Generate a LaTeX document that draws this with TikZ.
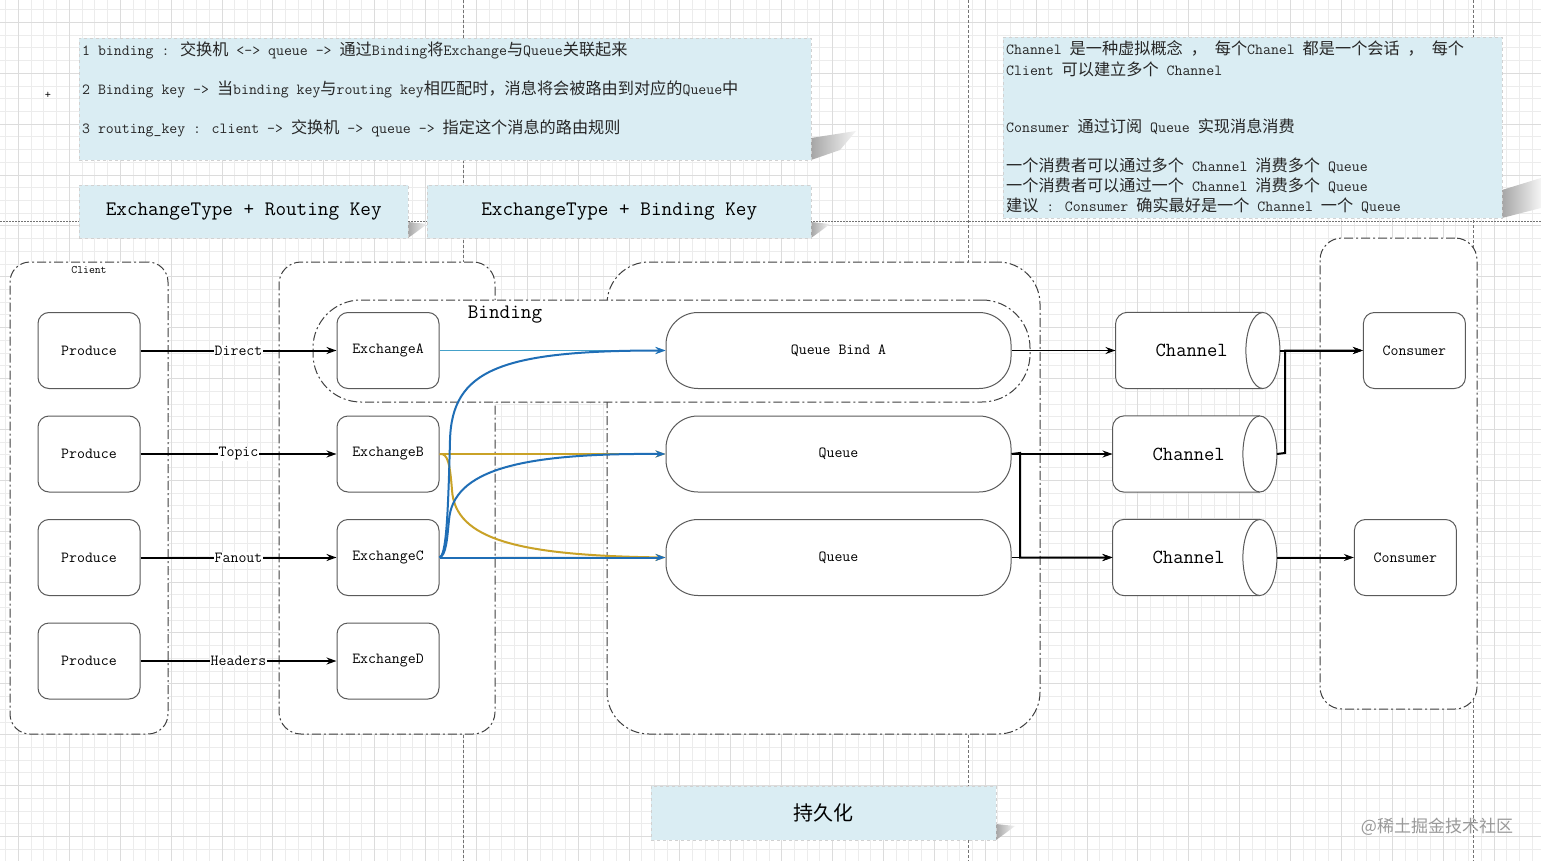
\documentclass[tikz,border=0pt]{standalone}
\usepackage{fontspec}
\renewcommand*\familydefault{\ttdefault}
\newfontfamily\cjk[Scale=1.05]{Noto Sans CJK SC}
\newfontfamily\cjkplain{Noto Sans CJK SC}
\newcommand{\zh}[1]{{\cjk #1}}
\usepackage{tikz}
\usetikzlibrary{
    arrows.meta,
    positioning,
    calc,
}
\usepackage{xcolor}
\definecolor{notefill}{HTML}{DAEDF3}
\definecolor{lineblue}{HTML}{1F6EB6}
\definecolor{lightblue}{HTML}{45A1C9}
\definecolor{linegold}{HTML}{C9A227}
\definecolor{gridminor}{HTML}{ECECEC}
\definecolor{gridmajor}{HTML}{DCDCDC}
\definecolor{boxline}{HTML}{5A5A5A}

\begin{document}
\begin{tikzpicture}[
    x=1pt, y=-1pt,
    >={Stealth[length=10pt,width=7pt]},
    txt/.style      = {font=\fontsize{15.4}{18}\selectfont},
    bigtxt/.style   = {font=\fontsize{20.6}{24}\selectfont},
    rbox/.style     = {draw=boxline, line width=1pt, rounded corners=11pt,
                       fill=white, minimum width=102pt, minimum height=76pt, txt},
    qbox/.style     = {rbox, rounded corners=32pt, minimum width=345pt},
    chan/.style     = {minimum width=164pt, minimum height=76pt, inner sep=0pt},
    chantxt/.style  = {font=\fontsize{20}{24}\selectfont},
    group/.style    = {draw=black!75, line width=1pt, fill=white,
                       dash pattern=on 9pt off 3pt on 2pt off 3pt},
    note/.style     = {fill=notefill, draw=black!18, dashed, inner sep=0pt},
    notetxt/.style  = {txt, anchor=west, inner sep=0pt, text=black!85},
    flow/.style     = {->, line width=2pt},
    thinflow/.style = {->, line width=1.1pt},
    elabel/.style   = {txt, fill=white, inner sep=1pt},
    bline/.style    = {->, line width=2pt, draw=lineblue},
    gline/.style    = {->, line width=2pt, draw=linegold},
    lbline/.style   = {->, line width=1.6pt, draw=lightblue},
    pageline/.style = {draw=black!55, line width=0.6pt, dash pattern=on 3pt off 2pt},
    wedge/.style    = {left color=black!35, right color=black!4},
]
\useasboundingbox (0,0) rectangle (1541,861);
\fill[white] (0,0) rectangle (1541,861);

%% -- grid and page breaks ---------------------------------------------------
\foreach \i in {0,...,121}
  \draw[gridminor, line width=0.6pt] ({5.6+12.72*\i},0) -- ({5.6+12.72*\i},861);
\foreach \j in {0,...,67}
  \draw[gridminor, line width=0.6pt] (0,{9.5+12.72*\j}) -- (1541,{9.5+12.72*\j});
\foreach \i in {1,5,...,121}
  \draw[gridmajor, line width=0.6pt] ({5.6+12.72*\i},0) -- ({5.6+12.72*\i},861);
\foreach \j in {1,5,...,67}
  \draw[gridmajor, line width=0.6pt] (0,{9.5+12.72*\j}) -- (1541,{9.5+12.72*\j});

\foreach \px in {463,968,1473}
  \draw[pageline] (\px,0) -- (\px,861);
\draw[pageline, dash pattern=on 1.5pt off 1.5pt] (0,221) -- (1541,221);

%% -- notes ------------------------------------------------------------------
\shade[wedge] (811,138) -- (856,131) -- (840,150) -- (811,160) -- cycle;
\shade[wedge] (1502,190) -- (1541,178) -- (1541,208) -- (1502,218) -- cycle;
\shade[wedge] (408,222) -- (427,224) -- (415,233) -- (408,238) -- cycle;
\shade[wedge] (811,222) -- (830,224) -- (818,233) -- (811,238) -- cycle;
\shade[wedge] (996,824) -- (1015,826) -- (1003,835) -- (996,840) -- cycle;

\node[note, anchor=north west, minimum width=732pt, minimum height=122pt] (note1) at (79,38) {};
\node[notetxt] (n1a) at (82,50)
  {1 binding : \zh{交换机} <-> queue -> \zh{通过}Binding\zh{将}Exchange\zh{与}Queue\zh{关联起来}};
\node[notetxt] (n1b) at (82,89)
  {2 Binding key -> \zh{当}binding key\zh{与}routing key\zh{相匹配时，消息将会被路由到对应的}Queue\zh{中}};
\node[notetxt] (n1c) at (82,128)
  {3 routing\_key : client -> \zh{交换机} -> queue -> \zh{指定这个消息的路由规则}};

\node[note, anchor=north west, minimum width=329pt, minimum height=53pt, bigtxt] (rkey) at (79,185)
  {ExchangeType + Routing Key};
\node[note, anchor=north west, minimum width=384pt, minimum height=53pt, bigtxt] (bkey) at (427,185)
  {ExchangeType + Binding Key};

\node[note, anchor=north west, minimum width=499pt, minimum height=181pt] (note2) at (1003,37) {};
\begin{scope}[every node/.append style={font=\fontsize{14.6}{18}\selectfont}]
\node[notetxt] (n2a) at (1006,48)
  {Channel \zh{是一种虚拟概念} \zh{，} \zh{每个}Chanel \zh{都是一个会话} \zh{，} \zh{每个}};
\node[notetxt] (n2b) at (1006,69) {Client \zh{可以建立多个} Channel};
\node[notetxt] (n2c) at (1006,127) {Consumer \zh{通过订阅} Queue \zh{实现消息消费}};
\node[notetxt] (n2d) at (1006,166) {\zh{一个消费者可以通过多个} Channel \zh{消费多个} Queue};
\node[notetxt] (n2e) at (1006,186) {\zh{一个消费者可以通过一个} Channel \zh{消费多个} Queue};
\node[notetxt] (n2f) at (1006,206) {\zh{建议} : Consumer \zh{确实最好是一个} Channel \zh{一个} Queue};
\end{scope}

\node[note, anchor=north west, minimum width=345pt, minimum height=54pt,
      font=\cjkplain\fontsize{20}{24}\selectfont] (persist) at (651,786) {持久化};

\node[font=\fontsize{12}{14}\selectfont] (plus) at (48,95) {+};
\node[text=black!40, font=\cjkplain\fontsize{17}{20}\selectfont] (wmark) at (1437,827) {@稀土掘金技术社区};

%% -- containers -------------------------------------------------------------
\node[group, rounded corners=20pt, minimum width=158pt, minimum height=472pt,
      label={[font=\fontsize{11.4}{13}\selectfont, anchor=north, inner sep=0pt, yshift=-5pt]north:Client}]
      (client) at (89,498) {};
\node[group, rounded corners=22pt, minimum width=216pt, minimum height=472pt] (exch) at (387,498) {};
\node[group, rounded corners=42pt, minimum width=433pt, minimum height=472pt] (queues) at (823.5,498) {};
\node[group, rounded corners=22pt, minimum width=157pt, minimum height=471pt] (consum) at (1398.5,473.5) {};
\node[group, rounded corners=48pt, minimum width=717pt, minimum height=102pt] (binding) at (671.5,351) {};
\node[bigtxt] (bindlbl) at (505,315) {Binding};

%% -- producers, exchanges, queues -------------------------------------------
\node[rbox] (p1) at (89,350.5) {Produce};
\node[rbox, below=26.5pt of p1] (p2) {Produce};
\node[rbox, below=26.5pt of p2] (p3) {Produce};
\node[rbox, below=26.5pt of p3] (p4) {Produce};

\node[rbox, right=196pt of p1] (xa) {ExchangeA};
\node[rbox, right=196pt of p2] (xb) {ExchangeB};
\node[rbox, right=196pt of p3] (xc) {ExchangeC};
\node[rbox, right=196pt of p4] (xd) {ExchangeD};

\node[qbox, right=226pt of xa] (qa) {Queue Bind A};
\node[qbox, right=226pt of xb] (qb) {Queue};
\node[qbox, right=226pt of xc] (qc) {Queue};

%% -- channels ---------------------------------------------------------------
\node[chan, right=104pt of qa] (c1) {};
\node[chan, right=101pt of qb] (c2) {};
\node[chan, right=101pt of qc] (c3) {};
\foreach \cn in {c1,c2,c3} {
  \draw[boxline, line width=1pt, rounded corners=12pt, fill=white]
    ($(\cn.north east)+(-17pt,0pt)$) -- (\cn.north west) -- (\cn.south west)
    -- ($(\cn.south east)+(-17pt,0pt)$);
  \draw[boxline, line width=1pt, fill=white]
    ($(\cn.east)+(-17pt,0pt)$) ellipse [x radius=17pt, y radius=38pt];
}
\node[chantxt] (c1t) at ($(c1)+(-6pt,0pt)$) {Channel};
\node[chantxt] (c2t) at ($(c2)+(-6pt,0pt)$) {Channel};
\node[chantxt] (c3t) at ($(c3)+(-6pt,0pt)$) {Channel};

\node[rbox, right=83pt of c1] (k1) {Consumer};
\node[rbox, right=77pt of c3] (k2) {Consumer};

%% -- connectors -------------------------------------------------------------
\draw[flow] (p1) -- node[elabel] {Direct} (xa);
\draw[flow] (p2) -- node[elabel] {Topic} (xb);
\draw[flow] (p3) -- node[elabel] {Fanout} (xc);
\draw[flow] (p4) -- node[elabel] {Headers} (xd);

\draw[lbline] (xa) -- (qa);
\draw[gline] (xb) -- (qb);
\draw[gline] (xb.east) .. controls (448,452.5) and (450,465) .. (452,490)
  .. controls (455,540) and (520,555.5) .. (qc.west);
\draw[bline] (xc.east) .. controls (446,555.5) and (448,520) .. (450,440)
  .. controls (452,370) and (500,350.5) .. (qa.west);
\draw[bline] (xc.east) .. controls (446,555.5) and (447,540) .. (449,520)
  .. controls (453,470) and (520,453) .. (qb.west);
\draw[bline] (xc) -- (qc);

\coordinate (jq) at (1020,453);
\draw[thinflow] (qa) -- (c1);
\draw[thinflow] (qb) -- (c2);
\draw[flow] (qb.east) -- (jq) |- (c3.west);
\draw[thinflow] (qc) -- (c3);

\coordinate (jc) at (1285,453);
\draw[flow] (c1.east) -- (k1.west);
\draw[flow] (c2.east) -- (jc) |- (k1.west);
\draw[flow] (c3.east) -- (k2.west);

\end{tikzpicture}
\end{document}
